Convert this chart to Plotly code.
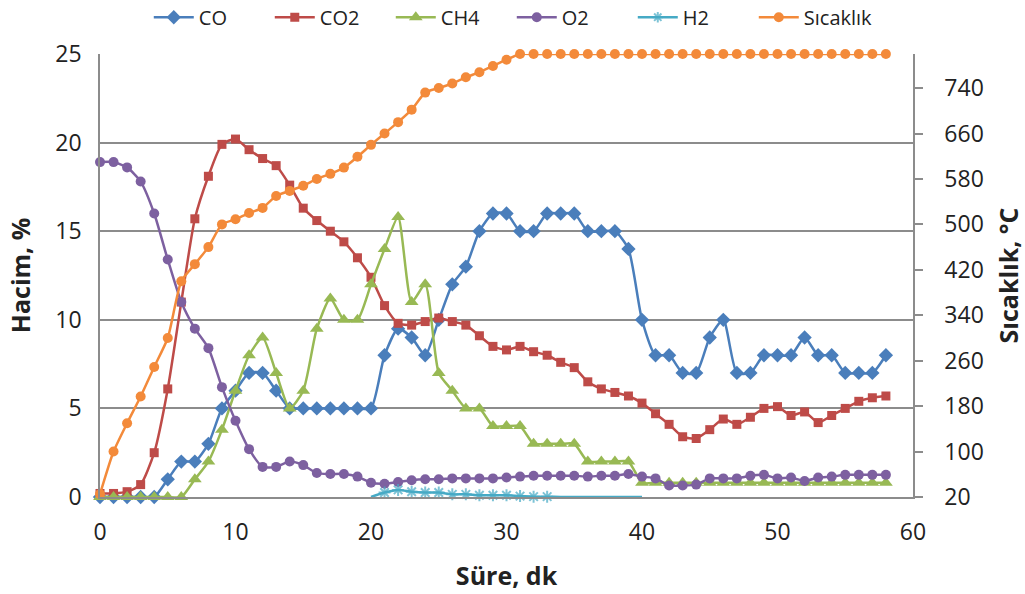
import plotly.graph_objects as go

t = list(range(0, 59))

co = [0, 0, 0, 0, 0, 1.0, 2.0, 2.0, 3.0, 5.0,
      6.0, 7.0, 7.0, 6.0, 5.0, 5.0, 5.0, 5.0, 5.0, 5.0,
      5.0, 8.0, 9.5, 9.0, 8.0, 10.0, 12.0, 13.0, 15.0, 16.0,
      16.0, 15.0, 15.0, 16.0, 16.0, 16.0, 15.0, 15.0, 15.0, 14.0,
      10.0, 8.0, 8.0, 7.0, 7.0, 9.0, 10.0, 7.0, 7.0, 8.0,
      8.0, 8.0, 9.0, 8.0, 8.0, 7.0, 7.0, 7.0, 8.0]

co2 = [0.2, 0.2, 0.3, 0.7, 2.5, 6.1, 11.0, 15.7, 18.1, 19.9,
       20.2, 19.6, 19.1, 18.7, 17.6, 16.3, 15.6, 15.0, 14.4, 13.5,
       12.4, 10.8, 9.8, 9.7, 9.9, 10.1, 9.9, 9.7, 9.1, 8.5,
       8.3, 8.5, 8.2, 8.0, 7.6, 7.3, 6.5, 6.1, 5.9, 5.7,
       5.3, 4.7, 4.1, 3.4, 3.3, 3.8, 4.4, 4.1, 4.5, 5.0,
       5.1, 4.6, 4.8, 4.2, 4.6, 5.0, 5.4, 5.6, 5.7]

ch4 = [0, 0, 0, 0, 0, 0, 0, 1.0, 2.0, 3.8,
       6.0, 8.0, 9.0, 7.0, 5.0, 6.0, 9.5, 11.2, 10.0, 10.0,
       12.0, 14.0, 15.8, 11.0, 12.0, 7.0, 6.0, 5.0, 5.0, 4.0,
       4.0, 4.0, 3.0, 3.0, 3.0, 3.0, 2.0, 2.0, 2.0, 2.0,
       0.8, 0.8, 0.8, 0.8, 0.8, 0.8, 0.8, 0.8, 0.8, 0.8,
       0.8, 0.8, 0.8, 0.8, 0.8, 0.8, 0.8, 0.8, 0.8]

o2 = [18.9, 18.9, 18.6, 17.8, 16.0, 13.4, 11.0, 9.5, 8.4, 6.2,
      4.3, 2.7, 1.7, 1.7, 2.0, 1.8, 1.35, 1.3, 1.3, 1.15,
      0.8, 0.75, 0.85, 0.95, 1.0, 1.0, 1.05, 1.05, 1.05, 1.05,
      1.1, 1.15, 1.2, 1.2, 1.2, 1.2, 1.15, 1.2, 1.2, 1.3,
      1.15, 1.05, 0.65, 0.65, 0.7, 1.05, 1.05, 1.05, 1.2, 1.25,
      1.05, 1.1, 0.9, 1.1, 1.15, 1.25, 1.25, 1.25, 1.25]

h2 = [None] * 20 + [0, 0.25, 0.4, 0.3, 0.25, 0.25, 0.15, 0.15, 0.1, 0.1,
                    0.1, 0.05, 0.02, 0.02, 0, 0, 0, 0, 0, 0,
                    0] + [None] * 18

sicaklik = [25, 100, 150, 197, 249, 300, 400, 430, 460, 500,
            509, 520, 529, 550, 559, 568, 580, 589, 600, 619,
            640, 660, 680, 702, 732, 740, 748, 759, 768, 779,
            790] + [800] * 28

x_ticks = [0, 10, 20, 30, 40, 50, 60]
y_ticks = [0, 5, 10, 15, 20, 25]
y2_ticks = [20, 100, 180, 260, 340, 420, 500, 580, 660, 740]

FONT = "Open Sans"
C_CO = "#4A7EBB"
C_CO2 = "#BE4B48"
C_CH4 = "#98B954"
C_O2 = "#7D60A0"
C_H2 = "#46AAC5"
C_T = "#F38A3A"
GRID = "#8C8C8C"
LW = 2.5

fig = go.Figure()
common = dict(mode="lines+markers", line_shape="spline", cliponaxis=False)

fig.add_trace(go.Scatter(x=t, y=co, name="CO", line=dict(color=C_CO, width=LW, smoothing=0.6),
                         marker=dict(symbol="diamond", size=11, color=C_CO), **common))
fig.add_trace(go.Scatter(x=t, y=co2, name="CO2", line=dict(color=C_CO2, width=LW, smoothing=0.6),
                         marker=dict(symbol="square", size=9, color=C_CO2), **common))
fig.add_trace(go.Scatter(x=t, y=ch4, name="CH4", line=dict(color=C_CH4, width=LW, smoothing=0.6),
                         marker=dict(symbol="triangle-up", size=12, color=C_CH4), **common))
fig.add_trace(go.Scatter(x=t, y=o2, name="O2", line=dict(color=C_O2, width=LW, smoothing=0.6),
                         marker=dict(symbol="circle", size=10, color=C_O2), **common))
# markers hidden where the H2 reading is zero
h2_sizes = [0 if v == 0 else 10 for v in h2]
fig.add_trace(go.Scatter(x=t, y=h2, name="H2", line=dict(color=C_H2, width=LW, smoothing=0.6),
                         marker=dict(symbol="asterisk-open", size=h2_sizes, color=C_H2,
                                     line=dict(color=C_H2, width=2)), **common))
fig.add_trace(go.Scatter(x=t, y=sicaklik, name="Sıcaklık", yaxis="y2",
                         line=dict(color=C_T, width=LW, smoothing=0.6),
                         marker=dict(symbol="circle", size=10, color=C_T), **common))

fig.update_layout(
    width=1025, height=594,
    margin=dict(l=100, r=112, t=54, b=97, autoexpand=False),
    paper_bgcolor="white", plot_bgcolor="white",
    font=dict(family=FONT, size=23, color="#222222"),
    showlegend=True,
    legend=dict(orientation="h", x=0.06, xanchor="left", y=1.083, yanchor="middle",
                font=dict(size=20), itemwidth=40, tracegroupgap=0,
                entrywidth=66, bgcolor="rgba(0,0,0,0)"),
    xaxis=dict(range=[0, 60], tickvals=x_ticks, showgrid=False, zeroline=False,
               showline=True, linecolor=GRID, linewidth=1.5, ticks="",
               ticklabelstandoff=14,
               title=dict(text="<b>Süre, dk</b>", font=dict(size=25), standoff=21),
               tickfont=dict(size=23)),
    yaxis=dict(range=[0, 25], tickvals=y_ticks, showgrid=True, gridcolor=GRID, gridwidth=1.5,
               zeroline=False, showline=True, linecolor=GRID, linewidth=1.5, ticks="",
               ticklabelstandoff=12,
               title=dict(text="<b>Hacim, %</b>", font=dict(size=25), standoff=18),
               tickfont=dict(size=23)),
    yaxis2=dict(range=[20, 800], tickvals=y2_ticks, overlaying="y", side="right",
                showgrid=False, zeroline=False, showline=True, linecolor=GRID, linewidth=1.5,
                ticks="outside", ticklen=8, tickcolor=GRID, tickwidth=1.5,
                ticklabelstandoff=17,
                title=dict(text="<b>Sıcaklık, °C</b>", font=dict(size=25), standoff=24),
                tickfont=dict(size=23)),
)

# remove the browser's default 8px page margin so the figure fills the window
fig.write_html("out.html", config={"displayModeBar": False},
               post_script="document.body.style.margin='0';")
